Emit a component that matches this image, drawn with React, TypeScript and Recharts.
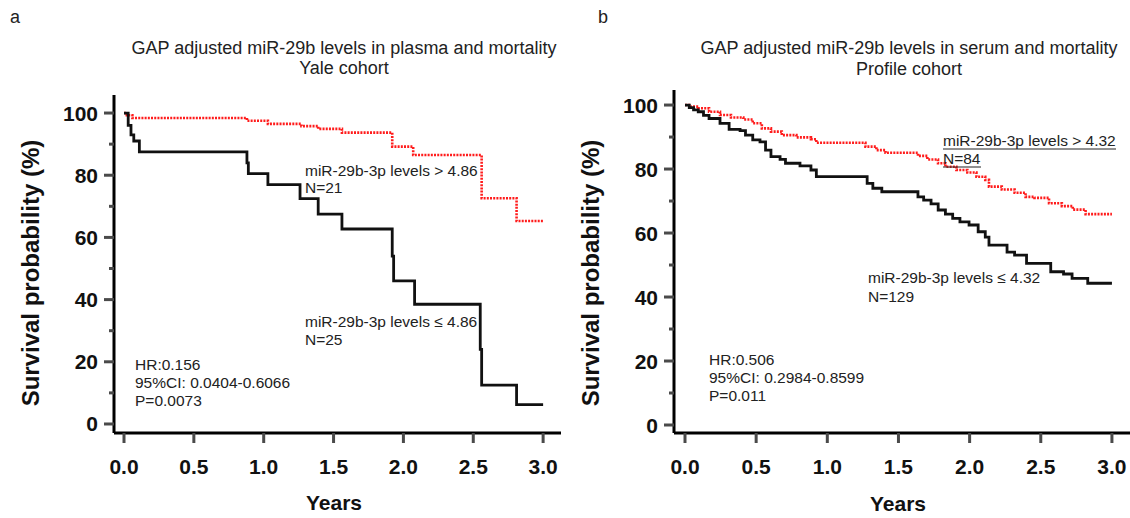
import { Line, LineChart, XAxis, YAxis } from "recharts";

const FONT = '"Liberation Sans", Arial, Helvetica, sans-serif';
const RED = "#ff1c1c";
const INK = "#111";
const TICK = "#4a4a4a";

const X_TICKS = [0, 0.5, 1, 1.5, 2, 2.5, 3];
const Y_TICKS = [0, 10, 20, 30, 40, 50, 60, 70, 80, 90, 100];

// Yale cohort (plasma): [years, survival %]
const YALE_LOW: [number, number][] = [
  [0, 100], [0.03, 96], [0.05, 93], [0.07, 91], [0.11, 87.5], [0.88, 84], [0.89, 80.5],
  [1.03, 77], [1.26, 72.5], [1.39, 67.5], [1.56, 62.7], [1.92, 54], [1.93, 46],
  [2.08, 38.5], [2.55, 24], [2.56, 12.5], [2.81, 6.2], [3.0, 6.2],
];
const YALE_HIGH: [number, number][] = [
  [0, 100], [0.02, 99.3], [0.06, 98.4], [0.88, 97.5], [1.03, 96.5], [1.27, 95.8],
  [1.39, 94.9], [1.56, 93.7], [1.92, 89.2], [2.07, 86.5], [2.56, 72.6], [2.81, 65.3], [3.0, 65.3],
];

// Profile cohort (serum)
const PROFILE_LOW: [number, number][] = [
  [0, 100], [0.03, 99.2], [0.06, 98.5], [0.093, 97.9], [0.13, 96.8], [0.169, 95.8], [0.246, 94.3],
  [0.31, 92.4], [0.387, 92], [0.425, 90.6], [0.476, 89.1], [0.527, 88.5], [0.566, 85.9],
  [0.604, 83.9], [0.668, 83], [0.706, 81.8], [0.808, 81], [0.885, 79.7], [0.923, 77.6],
  [1.28, 75.5], [1.32, 74], [1.383, 72.9], [1.637, 71.3], [1.677, 70.3], [1.729, 69.1],
  [1.779, 67.2], [1.83, 65.9], [1.881, 64.6], [1.932, 63.5], [1.996, 62.5], [2.06, 60.4],
  [2.11, 58.7], [2.136, 56.2], [2.263, 54], [2.316, 53.1], [2.4, 50.5], [2.57, 47.9],
  [2.66, 47.2], [2.72, 45.8], [2.83, 44.3], [3.0, 44.3],
];
const PROFILE_HIGH: [number, number][] = [
  [0, 100], [0.04, 99.5], [0.093, 99], [0.169, 97.9], [0.246, 96.9], [0.323, 96.1],
  [0.41, 95.5], [0.476, 94.3], [0.54, 92.7], [0.604, 91.7], [0.68, 90.6], [0.783, 89.9],
  [0.885, 89.3], [0.923, 88.2], [1.268, 87], [1.345, 85.9], [1.409, 85.1], [1.637, 84.1],
  [1.703, 83], [1.778, 81.8], [1.83, 80.7], [1.907, 79.7], [1.984, 78.9], [2.048, 77.6],
  [2.11, 76.6], [2.136, 74.5], [2.226, 73.6], [2.316, 72.6], [2.393, 71.3], [2.456, 71],
  [2.558, 69.3], [2.648, 68.4], [2.725, 67.3], [2.815, 65.9], [3.0, 65.9],
];

const toPts = (arr: [number, number][]) => arr.map(([t, s]) => ({ t, s }));

// tick coordinates arrive at the axis line because tickSize/tickMargin are 0
function XTick({ x, y, payload }: any) {
  return (
    <g>
      <line x1={x} y1={y} x2={x} y2={y + 10} stroke={TICK} strokeWidth={3} />
      <text x={x} y={y + 41} textAnchor="middle" fontFamily={FONT} fontWeight="bold" fontSize={21} fill={INK}>
        {Number(payload.value).toFixed(1)}
      </text>
    </g>
  );
}

function YTick({ x, y, payload }: any) {
  const major = payload.value % 20 === 0;
  return (
    <g>
      <line x1={x - (major ? 10 : 5)} y1={y} x2={x} y2={y} stroke={TICK} strokeWidth={3} />
      {major && (
        <text x={x - 16} y={y + 7.5} textAnchor="end" fontFamily={FONT} fontWeight="bold" fontSize={21} fill={INK}>
          {payload.value}
        </text>
      )}
    </g>
  );
}

function Panel({ left, margin, xDomain, yDomain, low, high }: any) {
  return (
    <div style={{ position: "absolute", left, top: 0 }}>
      <LineChart width={570} height={518} margin={margin}>
        <XAxis
          type="number"
          dataKey="t"
          domain={xDomain}
          ticks={X_TICKS}
          interval={0}
          tick={<XTick />}
          tickLine={false}
          tickSize={0}
          tickMargin={0}
          height={60}
          axisLine={{ stroke: "#000", strokeWidth: 3 }}
          allowDataOverflow
        />
        <YAxis
          type="number"
          dataKey="s"
          domain={yDomain}
          ticks={Y_TICKS}
          interval={0}
          tick={<YTick />}
          tickLine={false}
          tickSize={0}
          tickMargin={0}
          width={60}
          axisLine={{ stroke: "#000", strokeWidth: 3 }}
          allowDataOverflow
        />
        <Line
          data={toPts(high)}
          dataKey="s"
          type="stepAfter"
          stroke={RED}
          strokeWidth={2.6}
          strokeDasharray="2 1.2"
          dot={false}
          isAnimationActive={false}
        />
        <Line
          data={toPts(low)}
          dataKey="s"
          type="stepAfter"
          stroke={INK}
          strokeWidth={2.8}
          dot={false}
          isAnimationActive={false}
        />
      </LineChart>
    </div>
  );
}

const txt = { fontFamily: FONT, fill: "#222" };

export default function App() {
  return (
    <div style={{ position: "absolute", left: 0, top: 0, width: 1130, height: 518, background: "#fff" }}>
      <Panel
        left={0}
        margin={{ top: 95, right: 9, bottom: 25, left: 54 }}
        xDomain={[-0.0716, 3.128]}
        yDomain={[-2.9, 105.8]}
        low={YALE_LOW}
        high={YALE_HIGH}
      />
      <Panel
        left={560}
        margin={{ top: 90, right: 0, bottom: 25, left: 54 }}
        xDomain={[-0.0773, 3.127]}
        yDomain={[-2.5, 104.7]}
        low={PROFILE_LOW}
        high={PROFILE_HIGH}
      />
      <svg width={1130} height={518} style={{ position: "absolute", left: 0, top: 0, pointerEvents: "none" }}>
        <g {...txt} fontSize={18}>
          <text x={10} y={23}>a</text>
          <text x={598} y={23}>b</text>
          <text x={344} y={54} textAnchor="middle">GAP adjusted miR-29b levels in plasma and mortality</text>
          <text x={344} y={74} textAnchor="middle">Yale cohort</text>
          <text x={909} y={54} textAnchor="middle">GAP adjusted miR-29b levels in serum and mortality</text>
          <text x={909} y={75} textAnchor="middle">Profile cohort</text>
        </g>
        <g {...txt} fontSize={15.5}>
          <text x={305} y={176}>miR-29b-3p levels &gt; 4.86</text>
          <text x={305} y={193}>N=21</text>
          <text x={305} y={327}>miR-29b-3p levels ≤ 4.86</text>
          <text x={305} y={345}>N=25</text>
          <text x={135} y={370}>HR:0.156</text>
          <text x={135} y={388}>95%CI: 0.0404-0.6066</text>
          <text x={135} y={406}>P=0.0073</text>

          <text x={943} y={146}>miR-29b-3p levels &gt; 4.32</text>
          <text x={943} y={164}>N=84</text>
          <text x={868} y={283}>miR-29b-3p levels ≤ 4.32</text>
          <text x={868} y={302}>N=129</text>
          <text x={709} y={365}>HR:0.506</text>
          <text x={709} y={383}>95%CI: 0.2984-0.8599</text>
          <text x={709} y={401}>P=0.011</text>
        </g>
        <line x1={943} y1={149} x2={1116} y2={149} stroke="#222" strokeWidth={1} />
        <line x1={943} y1={167} x2={981} y2={167} stroke="#222" strokeWidth={1} />
        <g fontFamily={FONT} fontWeight="bold" fill={INK}>
          <text x={334} y={510} fontSize={21} textAnchor="middle">Years</text>
          <text x={898} y={511} fontSize={21} textAnchor="middle">Years</text>
          <text transform="translate(39, 273) rotate(-90)" fontSize={24} textAnchor="middle">Survival probability (%)</text>
          <text transform="translate(599, 273) rotate(-90)" fontSize={24} textAnchor="middle">Survival probability (%)</text>
        </g>
      </svg>
    </div>
  );
}
